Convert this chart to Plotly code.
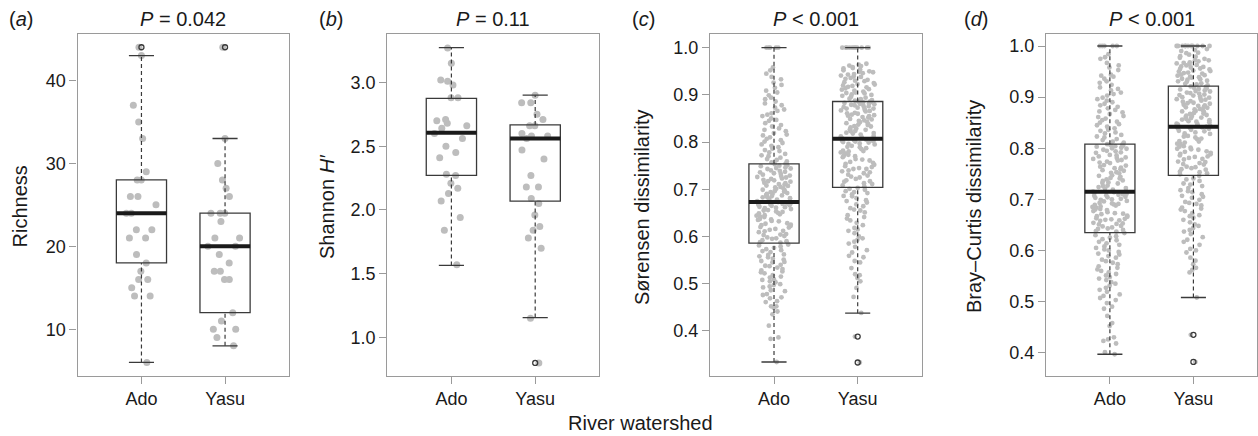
import plotly.graph_objects as go

# ---------------- data ----------------
categories = ["Ado", "Yasu"]

rich_ado = [44, 43, 37, 35, 33, 29, 28, 28, 26, 26, 25, 24, 24, 22, 22, 21, 21, 19, 18, 17, 16, 16, 15, 14, 14, 6]
rich_yasu = [44, 33, 30, 28, 27, 26, 24, 24, 24, 23, 21, 21, 20, 20, 19, 18, 17, 17, 16, 16, 12, 11, 10, 10, 9, 8]

shan_ado = [3.27, 3.15, 3.02, 3.01, 2.98, 2.88, 2.88, 2.71, 2.70, 2.68, 2.66, 2.64, 2.60, 2.56, 2.50, 2.45,
            2.41, 2.28, 2.27, 2.21, 2.17, 2.13, 2.07, 1.94, 1.84, 1.57]
shan_yasu = [2.90, 2.84, 2.84, 2.75, 2.71, 2.66, 2.66, 2.60, 2.58, 2.58, 2.56, 2.47, 2.40, 2.27, 2.18, 2.18,
             2.09, 2.05, 1.96, 1.87, 1.84, 1.78, 1.70, 1.15, 0.80]

sor_ado = [0.334, 0.383, 0.386, 0.411, 0.435, 0.441, 0.449, 0.452, 0.461, 0.463, 0.469, 0.471, 0.478, 0.484, 0.486,
           0.492, 0.494, 0.499, 0.503, 0.508, 0.509, 0.515, 0.518, 0.522, 0.526, 0.528, 0.534, 0.538, 0.540, 0.545,
           0.548, 0.551, 0.556, 0.558, 0.562, 0.567, 0.571, 0.573, 0.579, 0.583,
           0.587, 0.588, 0.592, 0.595, 0.596, 0.601, 0.603, 0.605, 0.609, 0.611, 0.612, 0.616, 0.619, 0.620, 0.624,
           0.625, 0.628, 0.632, 0.633, 0.636, 0.637, 0.641, 0.644, 0.645, 0.647, 0.650, 0.652, 0.653, 0.656, 0.658,
           0.661, 0.662, 0.663, 0.665, 0.667, 0.668, 0.669, 0.671, 0.672, 0.673,
           0.675, 0.678, 0.679, 0.681, 0.684, 0.685, 0.687, 0.690, 0.690, 0.692, 0.695, 0.696, 0.698, 0.701, 0.702,
           0.704, 0.707, 0.708, 0.710, 0.713, 0.714, 0.716, 0.719, 0.720, 0.722, 0.725, 0.726, 0.728, 0.731, 0.734,
           0.736, 0.737, 0.740, 0.743, 0.745, 0.746, 0.749, 0.750, 0.753, 0.754,
           0.757, 0.762, 0.764, 0.767, 0.772, 0.775, 0.778, 0.783, 0.786, 0.789, 0.795, 0.798, 0.801, 0.807, 0.810,
           0.816, 0.819, 0.826, 0.829, 0.836, 0.840, 0.847, 0.850, 0.858, 0.861, 0.869, 0.873, 0.882, 0.886, 0.894,
           0.899, 0.909, 0.915, 0.926, 0.933, 0.945, 0.952, 1.0, 1.0, 1.0,
           0.452, 0.476, 0.497, 0.505, 0.513, 0.524, 0.531, 0.537, 0.546, 0.553, 0.561, 0.569, 0.576, 0.581, 0.590,
           0.598, 0.604, 0.614, 0.622, 0.627, 0.635, 0.642, 0.649, 0.655, 0.660, 0.666, 0.670, 0.676, 0.683, 0.688,
           0.694, 0.699, 0.705, 0.711, 0.717, 0.723, 0.729, 0.733, 0.739, 0.744, 0.751, 0.759, 0.770, 0.781, 0.792,
           0.804, 0.814, 0.823, 0.833, 0.845, 0.855, 0.866, 0.878, 0.891, 0.905, 0.921, 0.938, 0.958, 1.0, 1.0]
sor_yasu = [0.333, 0.388, 0.438, 0.472, 0.491, 0.512, 0.518, 0.520, 0.533, 0.545, 0.556, 0.559, 0.571, 0.578, 0.585,
            0.589, 0.596, 0.600, 0.607, 0.612, 0.618, 0.624, 0.629, 0.634, 0.641, 0.645, 0.651, 0.655, 0.660, 0.664,
            0.668, 0.672, 0.677, 0.681, 0.685, 0.689, 0.692, 0.696, 0.699, 0.703,
            0.706, 0.708, 0.713, 0.716, 0.717, 0.722, 0.725, 0.729, 0.731, 0.734, 0.738, 0.740, 0.743, 0.747, 0.749,
            0.752, 0.756, 0.758, 0.761, 0.764, 0.768, 0.770, 0.773, 0.776, 0.778, 0.781, 0.785, 0.787, 0.790, 0.792,
            0.795, 0.797, 0.799, 0.800, 0.802, 0.803, 0.804, 0.805, 0.806, 0.807,
            0.808, 0.812, 0.813, 0.816, 0.819, 0.820, 0.824, 0.826, 0.827, 0.831, 0.833, 0.834, 0.838, 0.840, 0.842,
            0.845, 0.846, 0.849, 0.852, 0.853, 0.856, 0.858, 0.860, 0.862, 0.865, 0.866, 0.868, 0.871, 0.872, 0.874,
            0.876, 0.877, 0.879, 0.880, 0.881, 0.883, 0.884, 0.885, 0.886, 0.886,
            0.888, 0.891, 0.892, 0.896, 0.898, 0.900, 0.904, 0.905, 0.907, 0.911, 0.912, 0.916, 0.917, 0.920, 0.922,
            0.923, 0.927, 0.929, 0.930, 0.934, 0.936, 0.938, 0.941, 0.943, 0.946, 0.949, 0.950, 0.954, 0.957, 0.959,
            0.962, 0.966, 1.0, 1.0, 1.0, 1.0, 1.0, 1.0, 1.0, 1.0,
            0.505, 0.548, 0.566, 0.593, 0.615, 0.638, 0.657, 0.675, 0.686, 0.694, 0.701, 0.711, 0.719, 0.727, 0.736,
            0.745, 0.754, 0.763, 0.771, 0.780, 0.789, 0.796, 0.801, 0.810, 0.818, 0.823, 0.829, 0.836, 0.843, 0.848,
            0.855, 0.861, 0.867, 0.873, 0.878, 0.882, 0.889, 0.894, 0.901, 0.909, 0.914, 0.919, 0.925, 0.932, 0.939,
            0.944, 0.948, 0.952, 0.956, 0.961, 0.964, 1.0, 1.0, 1.0, 0.903, 0.871, 0.857, 0.837, 0.782, 0.743]

bc_ado = [0.397, 0.401, 0.418, 0.423, 0.426, 0.452, 0.458, 0.486, 0.490, 0.497, 0.503, 0.511, 0.514, 0.523, 0.527,
          0.535, 0.538, 0.542, 0.548, 0.551, 0.557, 0.560, 0.566, 0.569, 0.573, 0.579, 0.582, 0.586, 0.592, 0.594,
          0.600, 0.602, 0.608, 0.611, 0.614, 0.620, 0.622, 0.628, 0.630, 0.634,
          0.637, 0.638, 0.642, 0.643, 0.647, 0.648, 0.651, 0.653, 0.654, 0.658, 0.659, 0.662, 0.663, 0.667, 0.668,
          0.671, 0.672, 0.675, 0.677, 0.680, 0.681, 0.684, 0.685, 0.688, 0.689, 0.692, 0.693, 0.696, 0.697, 0.700,
          0.701, 0.704, 0.705, 0.707, 0.708, 0.710, 0.711, 0.713, 0.714, 0.715,
          0.717, 0.721, 0.722, 0.726, 0.727, 0.731, 0.732, 0.736, 0.737, 0.741, 0.742, 0.746, 0.747, 0.751, 0.752,
          0.756, 0.757, 0.761, 0.762, 0.766, 0.767, 0.771, 0.772, 0.776, 0.777, 0.781, 0.782, 0.786, 0.787, 0.791,
          0.792, 0.795, 0.797, 0.799, 0.801, 0.803, 0.804, 0.806, 0.807, 0.808,
          0.811, 0.816, 0.818, 0.823, 0.826, 0.831, 0.834, 0.839, 0.842, 0.847, 0.850, 0.855, 0.858, 0.863, 0.867,
          0.872, 0.875, 0.881, 0.884, 0.890, 0.893, 0.899, 0.903, 0.909, 0.913, 0.919, 0.924, 0.931, 0.936, 0.940,
          0.944, 0.953, 0.958, 0.967, 0.975, 0.984, 1.0, 1.0, 1.0, 1.0,
          0.430, 0.472, 0.507, 0.519, 0.531, 0.545, 0.554, 0.563, 0.576, 0.589, 0.597, 0.605, 0.617, 0.625, 0.640,
          0.645, 0.652, 0.661, 0.666, 0.673, 0.679, 0.686, 0.691, 0.699, 0.703, 0.709, 0.719, 0.724, 0.733, 0.739,
          0.744, 0.753, 0.759, 0.764, 0.774, 0.779, 0.784, 0.794, 0.800, 0.805, 0.813, 0.821, 0.829, 0.836, 0.845,
          0.852, 0.861, 0.870, 0.878, 0.887, 0.896, 0.906, 0.916, 0.928, 0.942, 0.962, 0.978, 1.0, 0.690, 0.660]
bc_yasu = [0.382, 0.435, 0.508, 0.557, 0.566, 0.573, 0.580, 0.596, 0.600, 0.603, 0.617, 0.621, 0.626, 0.637, 0.640,
           0.644, 0.651, 0.655, 0.660, 0.664, 0.669, 0.673, 0.677, 0.680, 0.684, 0.688, 0.691, 0.695, 0.699, 0.703,
           0.707, 0.710, 0.714, 0.718, 0.722, 0.726, 0.731, 0.736, 0.741, 0.746,
           0.749, 0.753, 0.754, 0.758, 0.759, 0.763, 0.764, 0.768, 0.769, 0.773, 0.774, 0.778, 0.779, 0.783, 0.784,
           0.788, 0.789, 0.793, 0.794, 0.798, 0.799, 0.803, 0.804, 0.808, 0.809, 0.813, 0.814, 0.818, 0.819, 0.823,
           0.824, 0.828, 0.829, 0.833, 0.834, 0.836, 0.838, 0.840, 0.841, 0.842,
           0.844, 0.847, 0.848, 0.851, 0.852, 0.855, 0.856, 0.859, 0.860, 0.863, 0.864, 0.867, 0.868, 0.871, 0.872,
           0.875, 0.876, 0.879, 0.880, 0.883, 0.884, 0.887, 0.888, 0.891, 0.892, 0.895, 0.896, 0.899, 0.900, 0.903,
           0.904, 0.907, 0.908, 0.911, 0.912, 0.915, 0.916, 0.918, 0.920, 0.921,
           0.923, 0.926, 0.927, 0.930, 0.931, 0.934, 0.935, 0.938, 0.939, 0.942, 0.943, 0.946, 0.947, 0.950, 0.951,
           0.954, 0.955, 0.958, 0.959, 0.962, 0.963, 0.966, 0.967, 0.970, 0.972, 0.975, 0.977, 0.980, 0.983, 0.987,
           0.990, 0.994, 1.0, 1.0, 1.0, 1.0, 1.0, 1.0, 1.0, 1.0,
           0.562, 0.586, 0.611, 0.632, 0.648, 0.667, 0.682, 0.693, 0.705, 0.716, 0.729, 0.739, 0.751, 0.761, 0.771,
           0.781, 0.791, 0.801, 0.811, 0.821, 0.831, 0.839, 0.846, 0.853, 0.861, 0.869, 0.877, 0.885, 0.893, 0.901,
           0.909, 0.917, 0.925, 0.932, 0.940, 0.948, 0.956, 0.964, 0.972, 0.979, 0.986, 0.992, 1.0, 1.0, 1.0,
           0.936, 0.944, 0.952, 0.960, 0.968, 0.857, 0.865, 0.873, 0.881, 0.889, 0.897, 0.905, 0.913, 0.797, 0.786]

# box statistics: [Ado, Yasu]
rich_stats = dict(lo=[6, 8], q1=[18, 12], med=[24, 20], q3=[28, 24], hi=[43, 33], out=[[44], [44]])
shan_stats = dict(lo=[1.565, 1.156], q1=[2.271, 2.07], med=[2.605, 2.56], q3=[2.875, 2.667], hi=[3.273, 2.90],
                  out=[[], [0.80]])
sor_stats = dict(lo=[0.334, 0.4375], q1=[0.586, 0.704], med=[0.673, 0.807], q3=[0.754, 0.886], hi=[1.0, 1.0],
                 out=[[], [0.388, 0.333]])
bc_stats = dict(lo=[0.397, 0.508], q1=[0.635, 0.747], med=[0.715, 0.842], q3=[0.808, 0.9215], hi=[1.0, 1.0],
                out=[[], [0.435, 0.382]])

panel_labels = ["(<i>a</i>)", "(<i>b</i>)", "(<i>c</i>)", "(<i>d</i>)"]
p_labels = ["<i>P</i> = 0.042", "<i>P</i> = 0.11", "<i>P</i> &lt; 0.001", "<i>P</i> &lt; 0.001"]
y_titles = ["Richness", "Shannon <i>H′</i>", "Sørensen dissimilarity", "Bray–Curtis dissimilarity"]
x_title = "River watershed"

y_ticks = [[10, 20, 30, 40], [1.0, 1.5, 2.0, 2.5, 3.0], [0.4, 0.5, 0.6, 0.7, 0.8, 0.9, 1.0],
           [0.4, 0.5, 0.6, 0.7, 0.8, 0.9, 1.0]]
y_ranges = [[4.4, 45.6], [0.70, 3.38], [0.305, 1.029], [0.355, 1.0235]]
tick_formats = ["d", ".1f", ".1f", ".1f"]

# ---------------- layout constants ----------------
W, H = 1258, 436
x_domains = [[77.5 / W, 289 / W], [387.3 / W, 599.3 / W], [710 / W, 921.7 / W], [1046 / W, 1257.3 / W]]
y_domain = [1 - 375.7 / H, 1 - 34 / H]
label_x = [7 / W, 317 / W, 630 / W, 962 / W]
ytitle_x = [19.5 / W, 327 / W, 642 / W, 974 / W]
point_sizes = [7, 7, 4.8, 4.8]

FONT = "Liberation Sans, Arial, Helvetica, sans-serif"
AXIS_COL = "#9a9a9a"
BOX_COL = "#3a3a3a"
PT_COL = "#bdbdbd"
BOX_W = 0.6
CAP = 0.15

fig = go.Figure()

panels = [(rich_ado, rich_yasu, rich_stats), (shan_ado, shan_yasu, shan_stats),
          (sor_ado, sor_yasu, sor_stats), (bc_ado, bc_yasu, bc_stats)]

for k, (va, vy, st) in enumerate(panels):
    xa = "x" if k == 0 else f"x{k+1}"
    ya = "y" if k == 0 else f"y{k+1}"
    # jittered points (library jitter)
    for i, vals in enumerate([va, vy]):
        fig.add_trace(go.Box(
            y=vals, x0=i, xaxis=xa, yaxis=ya, width=0.42,
            boxpoints="all", jitter=1.0, pointpos=0,
            line=dict(width=0, color="rgba(0,0,0,0)"), fillcolor="rgba(0,0,0,0)",
            marker=dict(color=PT_COL, size=point_sizes[k], line=dict(width=0)),
            hoveron="points", showlegend=False))
    # boxes from precomputed stats
    fig.add_trace(go.Box(
        x=[0, 1], q1=st["q1"], median=st["med"], q3=st["q3"],
        lowerfence=st["q1"], upperfence=st["q3"], width=BOX_W, whiskerwidth=0,
        boxpoints=False, line=dict(color=BOX_COL, width=1.3), fillcolor="rgba(0,0,0,0)",
        xaxis=xa, yaxis=ya, showlegend=False, hoverinfo="skip"))
    for i in range(2):
        # dashed whiskers
        fig.add_trace(go.Scatter(
            x=[i, i, None, i, i], y=[st["q3"][i], st["hi"][i], None, st["lo"][i], st["q1"][i]],
            mode="lines", line=dict(color=BOX_COL, width=1.2, dash="4px,3px"),
            xaxis=xa, yaxis=ya, showlegend=False, hoverinfo="skip"))
        # whisker caps
        fig.add_trace(go.Scatter(
            x=[i - CAP, i + CAP, None, i - CAP, i + CAP],
            y=[st["hi"][i], st["hi"][i], None, st["lo"][i], st["lo"][i]],
            mode="lines", line=dict(color=BOX_COL, width=1.3),
            xaxis=xa, yaxis=ya, showlegend=False, hoverinfo="skip"))
        # thick median
        fig.add_trace(go.Scatter(
            x=[i - BOX_W / 2, i + BOX_W / 2], y=[st["med"][i], st["med"][i]],
            mode="lines", line=dict(color="#1a1a1a", width=4),
            xaxis=xa, yaxis=ya, showlegend=False, hoverinfo="skip"))
        # outliers
        if st["out"][i]:
            fig.add_trace(go.Scatter(
                x=[i] * len(st["out"][i]), y=st["out"][i], mode="markers",
                marker=dict(symbol="circle-open", size=5, color=BOX_COL, line=dict(width=1.3)),
                xaxis=xa, yaxis=ya, showlegend=False))

layout = dict(width=W, height=H, margin=dict(l=0, r=0, t=0, b=0),
              paper_bgcolor="white", plot_bgcolor="white", boxmode="overlay",
              font=dict(family=FONT, size=18, color="#1a1a1a"))
common = dict(showline=True, mirror=True, linecolor=AXIS_COL, linewidth=1.2, ticks="outside",
              ticklen=7, tickwidth=1.2, tickcolor=AXIS_COL, showgrid=False, zeroline=False,
              tickfont=dict(family=FONT, size=18, color="#1a1a1a"))
for k in range(4):
    sfx = "" if k == 0 else str(k + 1)
    layout["xaxis" + sfx] = dict(domain=x_domains[k], range=[-0.765, 1.765], tickvals=[0, 1],
                                 ticktext=categories, anchor="y" + sfx, **common)
    layout["yaxis" + sfx] = dict(domain=y_domain, range=y_ranges[k], tickvals=y_ticks[k],
                                 tickformat=tick_formats[k], anchor="x" + sfx, **common)

annotations = []
for k in range(4):
    annotations.append(dict(text=panel_labels[k], x=label_x[k], y=1 - 19.5 / H, xref="paper", yref="paper",
                            xanchor="left", yanchor="middle", showarrow=False,
                            font=dict(family=FONT, size=20, color="#1a1a1a")))
    annotations.append(dict(text=p_labels[k], x=(x_domains[k][0] + x_domains[k][1]) / 2, y=1 - 19.5 / H,
                            xref="paper", yref="paper", xanchor="center", yanchor="middle", showarrow=False,
                            font=dict(family=FONT, size=20, color="#1a1a1a")))
    annotations.append(dict(text=y_titles[k], x=ytitle_x[k], y=1 - 207 / H, xref="paper", yref="paper",
                            xanchor="center", yanchor="middle", textangle=-90, showarrow=False,
                            font=dict(family=FONT, size=20, color="#1a1a1a")))
annotations.append(dict(text=x_title, x=640 / W, y=1 - 423 / H, xref="paper", yref="paper",
                        xanchor="center", yanchor="middle", showarrow=False,
                        font=dict(family=FONT, size=20, color="#1a1a1a")))
layout["annotations"] = annotations

fig.update_layout(**layout)
fig.write_html("out.html", config={"displayModeBar": False},
               post_script="document.body.style.margin='0px';")
